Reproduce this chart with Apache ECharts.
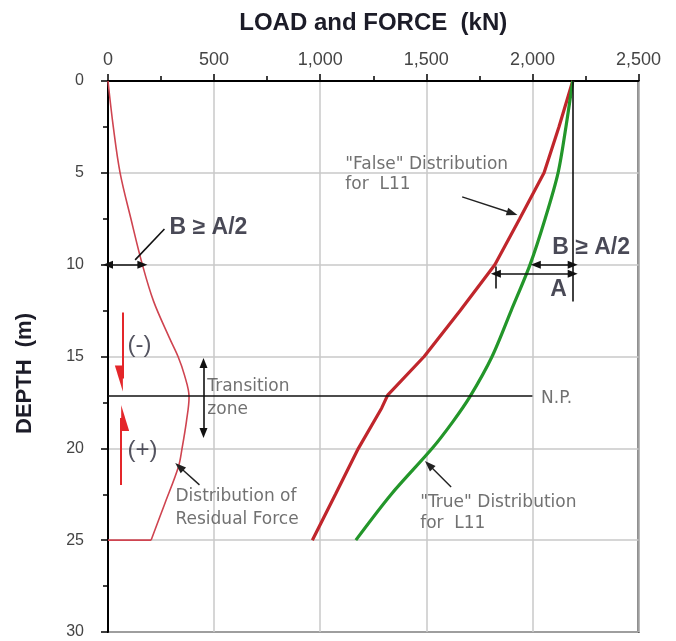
<!DOCTYPE html>
<html>
<head>
<meta charset="utf-8">
<script src="https://cdn.jsdelivr.net/npm/echarts@6/dist/echarts.min.js"></script>
<style>html,body{margin:0;padding:0;background:#fff}#c{width:676px;height:641px}</style>
</head>
<body>
<div id="c"></div>
<script>
// ---- data (kN, depth m) ----
const xTickLabels = ['0', '500', '1,000', '1,500', '2,000', '2,500'];
const yTickLabels = ['0', '5', '10', '15', '20', '25', '30'];

const residualDepth = [0, 2.5, 5, 7.5, 10, 12, 14, 15, 16, 17.2, 18.5, 20, 21, 23, 25];
const residualLoad  = [0, 25, 57, 108, 162, 215, 290, 330, 360, 382, 370, 349, 332, 268, 203];
const residualBaseDepth = [25, 25];
const residualBaseLoad  = [203, 0];

const falseDepth = [0, 2.5, 5, 7.5, 10, 12.5, 15, 17.1, 17.8, 20, 22.5, 25];
const falseLoad  = [2190, 2125, 2055, 1940, 1823, 1660, 1490, 1318, 1290, 1180, 1072, 963];

const trueDepth = [0, 2.5, 5, 7.5, 10, 12.5, 15, 17.2, 18.6, 20, 22.5, 25];
const trueLoad  = [2190, 2158, 2121, 2060, 1989, 1900, 1810, 1705, 1622, 1528, 1335, 1168];

// annotation geometry in data coordinates [kN, depth]
const plainSegs = [
  [[2190, 0], [2190, 12.0]],
  [[1828, 10.1], [1828, 11.3]],
  [[0, 17.15], [2000, 17.15]],
  [[266, 8.06], [128, 9.74]]
];
const doubleArrows = [
  [[1828, 10.5], [2190, 10.5]],
  [[2016, 10.0], [2190, 10.0]],
  [[0, 10.0], [162, 10.0]],
  [[450, 15.35], [450, 19.16]]
];
const leaderArrows = [
  [[1669, 6.31], [1905, 7.2]],
  [[1617, 22.1], [1512, 20.9]],
  [[431, 21.99], [336, 21.0]]
];
const signArrows = [
  [[70, 12.6], [70, 16.2]],
  [[62, 22.0], [62, 18.35]]
];

const noteTexts = ['"False" Distribution', 'for  L11', '"True" Distribution', 'for  L11',
  'Distribution of', 'Residual Force', 'Transition', 'zone', 'N.P.'];
const notePos = [[1118, 4.57], [1118, 5.66], [1471, 22.97], [1471, 24.1],
  [318, 22.65], [318, 23.9], [468, 16.66], [468, 17.91], [2041, 17.31]];
const boldTexts = ['B \u2265 A/2', 'B \u2265 A/2', 'A'];
const boldPos = [[290, 8.0], [2093, 9.09], [2084, 11.38]];
const signTexts = ['(-)', '(+)'];
const signPos = [[92, 14.37], [92, 20.09]];

// ---- build ----
const zip = (xs, ys) => xs.map((x, i) => [x, ys[i]]);
const segData = segs => segs.map(s => [{ coord: s[0] }, { coord: s[1] }]);
const textData = (texts, pos) => texts.map((t, i) => [pos[i][0], pos[i][1], t]);
const harpoon = 'path://M4,0 L4,10 L8,10 Z M0,10 L0,10';

const FONT = 'Liberation Sans, Arial, sans-serif';
const NOTE_FONT = 'DejaVu Sans, sans-serif';

const chart = echarts.init(document.getElementById('c'), null, { renderer: 'canvas' });

function textSeries(name, data, style) {
  return {
    name, type: 'scatter', data, symbolSize: 0, silent: true, z: 10,
    label: Object.assign({
      show: true, position: 'right', distance: 0,
      formatter: p => p.data[2]
    }, style)
  };
}

const residualStyle = { color: '#cf4450', width: 1.6 };

chart.setOption({
  animation: false,
  backgroundColor: '#fff',
  grid: { left: 108, right: 37.5, top: 81, bottom: 9, show: true, borderColor: '#222', borderWidth: 2, backgroundColor: 'transparent' },
  xAxis: {
    type: 'value', position: 'top', min: 0, max: 2500, interval: 500,
    name: 'LOAD and FORCE  (kN)', nameLocation: 'middle', nameGap: 46,
    nameMoveOverlap: false,
    nameTextStyle: { fontFamily: FONT, fontWeight: 'bold', fontSize: 24, color: '#1c1c28' },
    axisLine: { show: true, lineStyle: { color: '#000', width: 2 } },
    axisTick: { show: true, length: 7, lineStyle: { color: '#000', width: 1.5 } },
    minorTick: { show: true, splitNumber: 2, length: 5, lineStyle: { color: '#000', width: 1.5 } },
    splitLine: { show: true, lineStyle: { color: '#c8c8c8', width: 1.5 } },
    axisLabel: { fontFamily: FONT, fontSize: 18, color: '#444', margin: 12,
      formatter: v => xTickLabels[Math.round(v / 500)] }
  },
  yAxis: {
    type: 'value', inverse: true, min: 0, max: 30, interval: 5,
    name: 'DEPTH  (m)', nameLocation: 'middle', nameGap: 72, nameRotate: 90,
    nameMoveOverlap: false,
    nameTextStyle: { fontFamily: FONT, fontWeight: 'bold', fontSize: 22, color: '#1c1c28', padding: [0, 34, 0, 0] },
    axisLine: { show: true, lineStyle: { color: '#000', width: 2 } },
    axisTick: { show: true, length: 7, lineStyle: { color: '#000', width: 1.5 } },
    minorTick: { show: true, splitNumber: 2, length: 5, lineStyle: { color: '#000', width: 1.5 } },
    splitLine: { show: true, lineStyle: { color: '#c8c8c8', width: 1.5 } },
    axisLabel: { fontFamily: FONT, fontSize: 16, color: '#444', margin: 24,
      formatter: v => yTickLabels[Math.round(v / 5)] }
  },
  series: [
    { name: 'Residual', type: 'line', data: zip(residualLoad, residualDepth), showSymbol: false, z: 3,
      smooth: 0.35, lineStyle: residualStyle },
    { name: 'ResidualBase', type: 'line', data: zip(residualBaseLoad, residualBaseDepth), showSymbol: false, z: 3,
      lineStyle: residualStyle },
    { name: 'False', type: 'line', data: zip(falseLoad, falseDepth), showSymbol: false, z: 4,
      lineStyle: { color: '#c0262c', width: 3.2 } },
    { name: 'True', type: 'line', data: zip(trueLoad, trueDepth), showSymbol: false, smooth: 0.3, z: 4,
      lineStyle: { color: '#23962a', width: 3.2 } },
    { name: 'annot', type: 'line', data: [], z: 5,
      markLine: { silent: true, animation: false, symbol: 'none', label: { show: false },
        lineStyle: { color: '#111', width: 1.6, type: 'solid' }, data: segData(plainSegs) } },
    { name: 'annot2', type: 'line', data: [], z: 5,
      markLine: { silent: true, animation: false, symbol: ['triangle', 'triangle'], symbolSize: [8, 10],
        label: { show: false }, lineStyle: { color: '#111', width: 1.6, type: 'solid' }, data: segData(doubleArrows) } },
    { name: 'annot3', type: 'line', data: [], z: 5,
      markLine: { silent: true, animation: false, symbol: ['none', 'triangle'], symbolSize: [8, 11],
        label: { show: false }, lineStyle: { color: '#222', width: 1.4, type: 'solid' }, data: segData(leaderArrows) } },
    { name: 'annot4', type: 'line', data: [], z: 5,
      markLine: { silent: true, animation: false, symbol: ['none', harpoon], symbolSize: [16, 26],
        label: { show: false }, lineStyle: { color: '#e4262a', width: 2, type: 'solid' },
        itemStyle: { color: '#e4262a' }, data: segData(signArrows) } },
    textSeries('notes', textData(noteTexts, notePos),
      { fontFamily: NOTE_FONT, fontSize: 17, color: '#4e4e4e', lineHeight: 20 }),
    textSeries('bold', textData(boldTexts, boldPos),
      { fontFamily: FONT, fontWeight: 'bold', fontSize: 23, color: '#1c1c2c' }),
    textSeries('signs', textData(signTexts, signPos),
      { fontFamily: FONT, fontSize: 24, color: '#2a2a3a' })
  ]
});
</script>
</body>
</html>
